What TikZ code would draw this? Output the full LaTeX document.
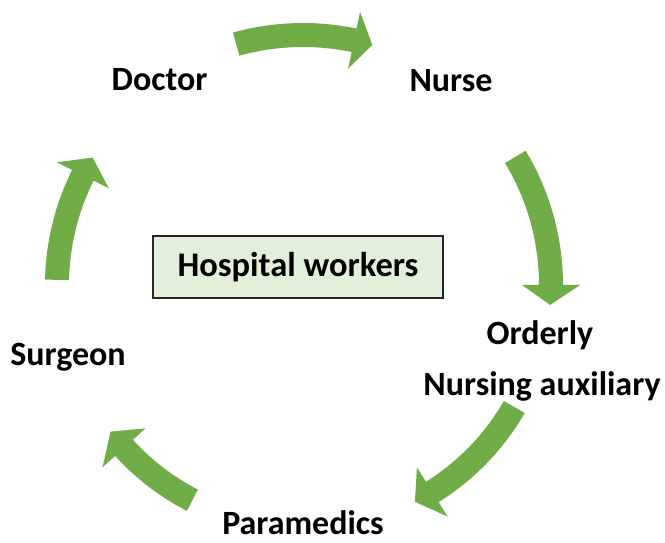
\documentclass[tikz,border=0pt]{standalone}
\usepackage{fontspec}
\setmainfont{Carlito}
\definecolor{arrowgreen}{HTML}{70AD47}
\definecolor{boxfill}{HTML}{E2EFDA}
\tikzset{
  lbl/.style={font=\fontsize{34}{40}\selectfont\bfseries, inner sep=0pt, text=black, anchor=base},
  centerbox/.style={draw=black!85, line width=1.3pt, fill=boxfill, minimum width=290pt, minimum height=62pt, inner sep=0pt, font=\fontsize{34.5}{40}\selectfont\bfseries}
}
% #1 tail angle, #2 head base angle, #3 tip angle, #4 radius (pt)
\newcommand\cycarrow[4]{%
  \pgfmathsetmacro\ro{#4+12}\pgfmathsetmacro\ri{#4-12}%
  \pgfmathsetmacro\ho{#4+29}\pgfmathsetmacro\hi{#4-29}%
  \fill[arrowgreen] (#1:\ro pt) arc[start angle=#1, end angle=#2, radius=\ro pt]
    -- (#2:\ho pt) -- (#3:#4pt) -- (#2:\hi pt) -- (#2:\ri pt)
    arc[start angle=#2, end angle=#1, radius=\ri pt] -- cycle;}
\begin{document}
\begin{tikzpicture}[x=1pt,y=1pt]
\useasboundingbox (0,0) rectangle (665,542);
\node[centerbox] (hub) at (298,275) {Hospital workers};
\node[lbl] (doctor) at (159.5,451) {Doctor};
\node[lbl] (nurse) at (451,450) {Nurse};
\node[lbl] (orderly) at (540,197) {Orderly};
\node[lbl] (auxiliary) at (542,147) {Nursing auxiliary};
\node[lbl] (paramedics) at (303,8) {Paramedics};
\node[lbl] (surgeon) at (68,177) {Surgeon};
\begin{scope}[shift={(303,257)}]
  \cycarrow{105.5}{78.2}{73.9}{250}
  \cycarrow{31.1}{0}{-4.6}{248}
  \cycarrow{-30}{-58}{-62.7}{244}
  \cycarrow{-117.2}{-137.7}{-142.7}{242}
  \cycarrow{178.8}{153.5}{148.8}{246}
\end{scope}
\end{tikzpicture}
\end{document}
